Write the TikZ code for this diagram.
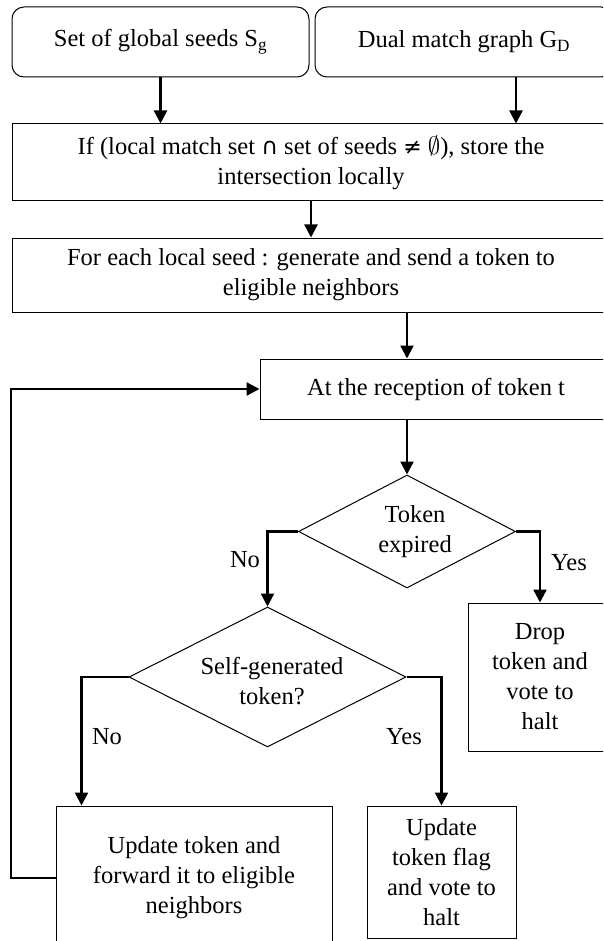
\documentclass[tikz,border=0pt]{standalone}
\usepackage{fontspec}
\setmainfont{Liberation Serif}
\newfontfamily\symf{DejaVu Sans}
\usetikzlibrary{arrows.meta,shapes.geometric}
\begin{document}
\begin{tikzpicture}[x=1pt,y=-1pt,
  txt/.style={font=\fontsize{24.5}{30}\selectfont},
  box/.style={draw,line width=1pt,inner sep=0pt,align=center,txt},
  dia/.style={draw,diamond,line width=1pt,inner sep=0pt},
  arr/.style={line width=2.4pt,-{Triangle[width=13pt,length=13pt]}},
  lbl/.style={txt,inner sep=0pt}]
\useasboundingbox (0,0) rectangle (603,941);
\clip (0,0) rectangle (603,941);
\node[box,rounded corners=12pt,minimum width=297,minimum height=70] (b1) at (160.5,42) {Set of global seeds S\textsubscript{g}};
\node[box,rounded corners=12pt,minimum width=298,minimum height=70] (b2) at (464,42) {Dual match graph G\textsubscript{D}};
\node[box,minimum width=598,minimum height=77] (b3) at (311,162.5) {If (local match set {\symf\fontsize{23}{30}\selectfont ∩} set of seeds {\symf\fontsize{22}{30}\selectfont ≠} $\emptyset$), store the\\intersection locally};
\node[box,minimum width=598,minimum height=74] (b4) at (311,275) {For each local seed : generate and send a token to\\eligible neighbors};
\node[box,minimum width=352,minimum height=60] (b5) at (436,389) {At the reception of token t};
\node[dia,minimum width=217,minimum height=113] (d1) at (407,531.5) {};
\node[lbl,align=center] (t1) at (415,532) {Token\\expired};
\node[dia,minimum width=277,minimum height=140] (d2) at (267.5,677) {};
\node[lbl,align=center] (t2) at (272,681) {Self-generated\\token?};
\node[box,minimum width=144,minimum height=148] (b7) at (540,677) {Drop\\token and\\vote to\\halt};
\node[box,minimum width=276,minimum height=144] (b6) at (194,878) {Update token and\\forward it to eligible\\neighbors};
\node[box,minimum width=149,minimum height=132] (b8) at (441.5,872) {Update\\token flag\\and vote to\\halt};
\node[lbl] (no1) at (245,560) {No};
\node[lbl] (yes1) at (569,563) {Yes};
\node[lbl] (no2) at (107,737) {No};
\node[lbl] (yes2) at (404,737) {Yes};
\path ([xshift=52pt]b2.south) coordinate (c2);
\path ([xshift=26pt]b6.north west) coordinate (n2);
\coordinate (fb) at (11,0);
\draw[arr] (b1.south) -- (b1.south |- b3.north);
\draw[arr] (c2) -- (c2 |- b3.north);
\draw[arr] (b3.south) -- (b4.north);
\draw[arr] (d1.north |- b4.south) -- (d1.north |- b5.north);
\draw[arr] (d1.north |- b5.south) -- (d1.north);
\draw[arr] (d1.west) -| (d2.north);
\draw[arr] (d1.east) -| (b7.north);
\draw[arr] (d2.west) -| (n2);
\draw[arr] (d2.east) -| (b8.north);
\draw[arr] (b6.west) -- (b6.west -| fb) -- (b5.west -| fb) -- (b5.west);
\end{tikzpicture}
\end{document}
